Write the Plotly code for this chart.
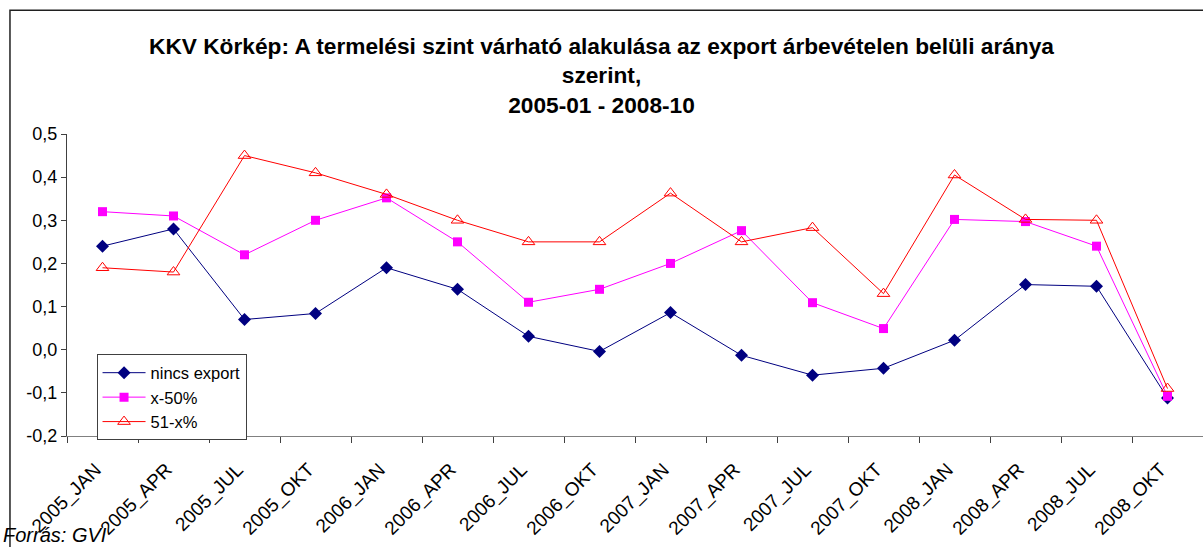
import plotly.graph_objects as go

categories = ["2005_JAN", "2005_APR", "2005_JUL", "2005_OKT",
              "2006_JAN", "2006_APR", "2006_JUL", "2006_OKT",
              "2007_JAN", "2007_APR", "2007_JUL", "2007_OKT",
              "2008_JAN", "2008_APR", "2008_JUL", "2008_OKT"]

nincs_export = [0.24, 0.28, 0.07, 0.084, 0.19, 0.14, 0.031, -0.004,
                0.086, -0.013, -0.059, -0.043, 0.022, 0.151, 0.147, -0.112]
x_50 = [0.32, 0.31, 0.22, 0.30, 0.352, 0.25, 0.11, 0.14,
        0.20, 0.276, 0.109, 0.049, 0.302, 0.297, 0.24, -0.108]
r51_x = [0.19, 0.18, 0.45, 0.41, 0.36, 0.30, 0.25, 0.25,
         0.363, 0.25, 0.283, 0.13, 0.405, 0.302, 0.30, -0.09]

y_ticks = [0.5, 0.4, 0.3, 0.2, 0.1, 0.0, -0.1, -0.2]
y_labels = ["0,5", "0,4", "0,3", "0,2", "0,1", "0,0", "-0,1", "-0,2"]

FONT = "Liberation Sans, Arial, sans-serif"

fig = go.Figure()
fig.add_trace(go.Scatter(x=categories, y=nincs_export, name="nincs export",
                         mode="lines+markers",
                         line=dict(color="#000080", width=1),
                         marker=dict(symbol="diamond", size=10, color="#000080")))
fig.add_trace(go.Scatter(x=categories, y=x_50, name="x-50%",
                         mode="lines+markers",
                         line=dict(color="#FF00FF", width=1),
                         marker=dict(symbol="square", size=9, color="#FF00FF")))
fig.add_trace(go.Scatter(x=categories, y=r51_x, name="51-x%",
                         mode="lines+markers",
                         line=dict(color="#FF0000", width=1),
                         marker=dict(symbol="triangle-up-open", size=11,
                                     color="#FF0000", line=dict(width=1))))

fig.update_layout(
    width=1203, height=547,
    margin=dict(l=67, r=0, t=134, b=111),
    paper_bgcolor="white", plot_bgcolor="white",
    font=dict(family=FONT, size=17, color="black"),
    title=dict(
        text="<b>KKV Körkép: A termelési szint várható alakulása az export árbevételen belüli aránya<br>szerint,<br>2005-01 - 2008-10</b>",
        x=0.5, xref="container", xanchor="center", y=0.902, yanchor="top",
        font=dict(family=FONT, size=22.7, color="black")),
    xaxis=dict(type="category", range=[-0.5, 15.5], showgrid=False,
               showline=True, linecolor="#808080", linewidth=1,
               ticks="outside", ticklen=6, tickcolor="#404040",
               tickson="boundaries", tickangle=-45,
               ticklabelstandoff=14, ticklabelshift=-7,
               tickfont=dict(size=19)),
    yaxis=dict(range=[-0.2, 0.5], tickvals=y_ticks, ticktext=y_labels,
               showgrid=False, zeroline=False,
               showline=True, linecolor="#404040", linewidth=1,
               ticks="outside", ticklen=5, tickcolor="#404040",
               tickfont=dict(size=18)),
    legend=dict(x=0.026, y=0.27, xanchor="left", yanchor="top",
                bordercolor="#404040", borderwidth=1, bgcolor="white",
                font=dict(size=16.5), tracegroupgap=0, itemwidth=43),
    showlegend=True,
)

# chart frame
fig.add_shape(type="rect", xref="paper", yref="paper",
              x0=-0.0502, x1=1.1, y0=-0.6, y1=1.41,
              line=dict(color="#202020", width=1.5), fillcolor="rgba(0,0,0,0)",
              layer="below")

fig.add_annotation(text="<i>Forrás: GVI</i>", xref="paper", yref="paper",
                   x=-0.058, y=-0.285, xanchor="left", yanchor="top",
                   showarrow=False, font=dict(family=FONT, size=20, color="black"))

fig.write_html("out.html")
